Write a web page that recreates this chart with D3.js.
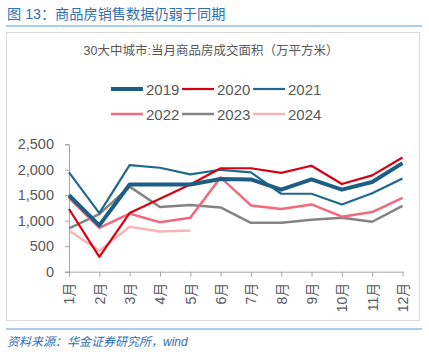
<!DOCTYPE html>
<html>
<head>
<meta charset="utf-8">
<script src="https://cdn.jsdelivr.net/npm/d3@7"></script>
<style>
	body { margin: 0; background: #fff; font-family: "Liberation Sans", Arial, "Noto Sans CJK SC", sans-serif; }
	svg text { font-family: "Liberation Sans", Arial, "Noto Sans CJK SC", sans-serif; }
</style>
</head>
<body>
<svg id="chart" width="429" height="359"></svg>
<script>
const months = ['1月','2月','3月','4月','5月','6月','7月','8月','9月','10月','11月','12月']
const yTicks = [0, 500, 1000, 1500, 2000, 2500]

const s2019 = [1500, 910, 1710, 1710, 1710, 1820, 1810, 1610, 1810, 1610, 1760, 2130]
const s2020 = [1230, 290, 1150, 1430, 1710, 2030, 2030, 1940, 2080, 1720, 1890, 2240]
const s2021 = [1950, 1150, 2090, 2040, 1910, 2000, 1950, 1530, 1530, 1320, 1540, 1830]
const s2022 = [1450, 860, 1140, 970, 1060, 1850, 1300, 1230, 1320, 1080, 1170, 1450]
const s2023 = [850, 1130, 1670, 1270, 1310, 1260, 960, 960, 1020, 1060, 980, 1290]
const s2024 = [810, 410, 880, 790, 810]

const series = [
	{name: '2019', values: s2019, color: '#1d5f84', width: 4},
	{name: '2020', values: s2020, color: '#d7000f', width: 2.2},
	{name: '2021', values: s2021, color: '#1f6a8c', width: 2.2},
	{name: '2022', values: s2022, color: '#f4687c', width: 2.5},
	{name: '2023', values: s2023, color: '#838383', width: 2.5},
	{name: '2024', values: s2024, color: '#f8b4b6', width: 2.5}
]

const svg = d3.select('#chart')

// header
svg.append('text').attr('x', 7).attr('y', 19)
	.attr('fill', '#2f6fb3').attr('font-size', 14.2)
	.text('图 13：商品房销售数据仍弱于同期')
svg.append('line').attr('x1', 6).attr('x2', 422).attr('y1', 26).attr('y2', 26)
	.attr('stroke', '#5b9bd5').attr('stroke-width', 1)

// frame
svg.append('rect').attr('x', 6.5).attr('y', 32.5).attr('width', 413).attr('height', 288)
	.attr('fill', 'none').attr('stroke', '#d9d9d9')

svg.append('text').attr('x', 211).attr('y', 55).attr('text-anchor', 'middle')
	.attr('fill', '#595959').attr('font-size', 12.5)
	.text('30大中城市:当月商品房成交面积（万平方米）')

// legend
const legendX = [111, 182, 253]
series.forEach((s, i) => {
	const g = svg.append('g')
		.attr('transform', `translate(${legendX[i % 3]},${i < 3 ? 89 : 114})`)
	g.append('line').attr('x1', 0).attr('x2', 32)
		.attr('stroke', s.color).attr('stroke-width', s.width)
	g.append('text').attr('x', 35).attr('y', 5.5)
		.attr('fill', '#595959').attr('font-size', 15).text(s.name)
})

// scales
const x = d3.scalePoint().domain(months).range([69, 402.5])
const y = d3.scaleLinear().domain([0, 2500]).range([271.7, 144.3])

const axisColor = '#a6a6a6'

const yAxis = svg.append('g').attr('transform', 'translate(69,0)')
	.call(d3.axisLeft(y).tickValues(yTicks).tickFormat(d3.format(',')).tickSize(4).tickPadding(11))
yAxis.select('.domain').attr('stroke', axisColor)
yAxis.selectAll('.tick line').attr('stroke', axisColor)
yAxis.selectAll('.tick text').attr('fill', '#595959').attr('font-size', 14.5)
	.attr('font-family', '"Liberation Sans", Arial, sans-serif')

const xAxis = svg.append('g').attr('transform', 'translate(0,271.7)')
	.call(d3.axisBottom(x).tickSize(5).tickSizeOuter(0))
xAxis.select('.domain').attr('stroke', axisColor)
xAxis.selectAll('.tick line').attr('stroke', axisColor)
xAxis.selectAll('.tick text')
	.attr('fill', '#595959').attr('font-size', 14)
	.attr('transform', 'rotate(-90)')
	.attr('text-anchor', 'end')
	.attr('x', -11).attr('y', 0).attr('dy', '0.35em')

// lines
const line = d3.line().x((d, i) => x(months[i])).y(d => y(d))
svg.append('g').selectAll('path').data(series.slice().reverse()).enter()
	.append('path')
	.attr('d', d => line(d.values))
	.attr('fill', 'none')
	.attr('stroke', d => d.color)
	.attr('stroke-width', d => d.width)
	.attr('stroke-linejoin', 'round')

// footer
svg.append('line').attr('x1', 6).attr('x2', 422).attr('y1', 329).attr('y2', 329)
	.attr('stroke', '#5b9bd5').attr('stroke-width', 1)
svg.append('text').attr('x', 7).attr('y', 346)
	.attr('fill', '#2f6fb3').attr('font-size', 12).attr('font-style', 'italic')
	.text('资料来源：华金证券研究所，wind')
</script>
</body>
</html>
